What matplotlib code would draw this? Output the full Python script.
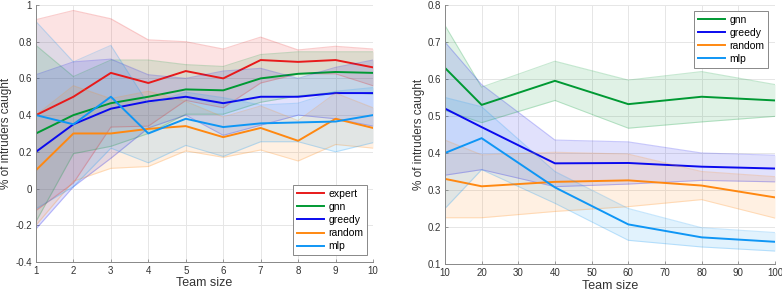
import numpy as np
import matplotlib
matplotlib.use("Agg")
import matplotlib.pyplot as plt

plt.rcParams['font.family'] = ['Liberation Sans', 'DejaVu Sans']

# ---- Left chart data ----
team_small = [1, 2, 3, 4, 5, 6, 7, 8, 9, 10]
expert_mean = [0.40, 0.50, 0.63, 0.575, 0.64, 0.60, 0.70, 0.69, 0.70, 0.66]
expert_std = [0.52, 0.47, 0.295, 0.235, 0.16, 0.16, 0.125, 0.065, 0.075, 0.10]
gnn_mean = [0.30, 0.40, 0.465, 0.50, 0.54, 0.535, 0.60, 0.625, 0.635, 0.63]
gnn_std = [0.48, 0.21, 0.235, 0.20, 0.135, 0.13, 0.13, 0.12, 0.11, 0.115]
greedy_mean = [0.20, 0.35, 0.435, 0.475, 0.50, 0.465, 0.50, 0.50, 0.52, 0.52]
greedy_std = [0.42, 0.34, 0.27, 0.145, 0.10, 0.175, 0.155, 0.10, 0.14, 0.18]
random_mean = [0.10, 0.30, 0.30, 0.325, 0.34, 0.28, 0.33, 0.26, 0.38, 0.33]
random_std = [0.30, 0.26, 0.19, 0.205, 0.135, 0.11, 0.12, 0.11, 0.14, 0.11]
mlp_mean = [0.40, 0.35, 0.50, 0.30, 0.38, 0.335, 0.355, 0.36, 0.365, 0.40]
mlp_std = [0.51, 0.34, 0.28, 0.16, 0.145, 0.16, 0.10, 0.105, 0.165, 0.15]

# ---- Right chart data ----
team_large = [10, 20, 40, 60, 80, 100]
gnn2_mean = [0.63, 0.53, 0.595, 0.532, 0.552, 0.542]
gnn2_std = [0.115, 0.048, 0.053, 0.065, 0.068, 0.043]
greedy2_mean = [0.52, 0.47, 0.372, 0.373, 0.363, 0.358]
greedy2_std = [0.18, 0.115, 0.063, 0.057, 0.037, 0.036]
random2_mean = [0.33, 0.31, 0.322, 0.326, 0.312, 0.28]
random2_std = [0.105, 0.085, 0.08, 0.071, 0.038, 0.056]
mlp2_mean = [0.40, 0.44, 0.307, 0.207, 0.172, 0.16]
mlp2_std = [0.15, 0.085, 0.043, 0.043, 0.026, 0.025]

colors = {
    'expert': '#e81a1a',
    'gnn': '#009933',
    'greedy': '#0a0aee',
    'random': '#ff8811',
    'mlp': '#0f96f5',
}

fig = plt.figure(figsize=(7.82, 2.93), dpi=100)
ax1 = fig.add_axes([0.046, 0.106, 0.431, 0.877])
ax2 = fig.add_axes([0.569, 0.099, 0.422, 0.884])


def style(ax):
    ax.grid(True, color='#e6e6e6', linewidth=0.7)
    ax.set_axisbelow(True)
    for s in ['top', 'right']:
        ax.spines[s].set_visible(False)
    for s in ['left', 'bottom']:
        ax.spines[s].set_color('#888888')
        ax.spines[s].set_linewidth(0.7)
    ax.tick_params(direction='in', length=2.5, width=0.6, colors='#888888',
                   labelcolor='#333333', labelsize=7, pad=3)
    ax.set_xlabel('Team size', fontsize=9, color='#333333', labelpad=1)
    ax.set_ylabel('% of intruders caught', fontsize=8.5, color='#333333', labelpad=2)


def band(ax, x, m, s, c, label):
    m = np.array(m)
    s = np.array(s)
    ax.fill_between(x, m - s, m + s, color=c, alpha=0.12, linewidth=0)
    ax.plot(x, m - s, color=c, alpha=0.22, linewidth=0.8)
    ax.plot(x, m + s, color=c, alpha=0.22, linewidth=0.8)
    ax.plot(x, m, color=c, linewidth=1.4, label=label)


def legend(ax, loc, anchor):
    leg = ax.legend(loc=loc, bbox_to_anchor=anchor, fontsize=7.5,
                    handlelength=2.6, handletextpad=0.45, labelspacing=0.3,
                    borderpad=0.35, borderaxespad=0, fancybox=False,
                    framealpha=1, edgecolor='#888888')
    leg.get_frame().set_linewidth(0.7)
    return leg


band(ax1, team_small, expert_mean, expert_std, colors['expert'], 'expert')
band(ax1, team_small, gnn_mean, gnn_std, colors['gnn'], 'gnn')
band(ax1, team_small, greedy_mean, greedy_std, colors['greedy'], 'greedy')
band(ax1, team_small, random_mean, random_std, colors['random'], 'random')
band(ax1, team_small, mlp_mean, mlp_std, colors['mlp'], 'mlp')
ax1.set_xlim(1, 10)
ax1.set_ylim(-0.4, 1.0)
ax1.set_xticks(team_small)
ax1.set_yticks(np.arange(-0.4, 1.01, 0.2))
ax1.set_yticklabels(['-0.4', '-0.2', '0', '0.2', '0.4', '0.6', '0.8', '1'])
style(ax1)
legend(ax1, 'lower right', (0.982, 0.027))

band(ax2, team_large, gnn2_mean, gnn2_std, colors['gnn'], 'gnn')
band(ax2, team_large, greedy2_mean, greedy2_std, colors['greedy'], 'greedy')
band(ax2, team_large, random2_mean, random2_std, colors['random'], 'random')
band(ax2, team_large, mlp2_mean, mlp2_std, colors['mlp'], 'mlp')
ax2.set_xlim(10, 100)
ax2.set_ylim(0.1, 0.8)
ax2.set_xticks(np.arange(10, 101, 10))
ax2.set_yticks(np.arange(0.1, 0.81, 0.1))
ax2.set_yticklabels(['0.1', '0.2', '0.3', '0.4', '0.5', '0.6', '0.7', '0.8'])
style(ax2)
legend(ax2, 'upper right', (0.979, 0.977))

fig.savefig('out.png', dpi=100)
